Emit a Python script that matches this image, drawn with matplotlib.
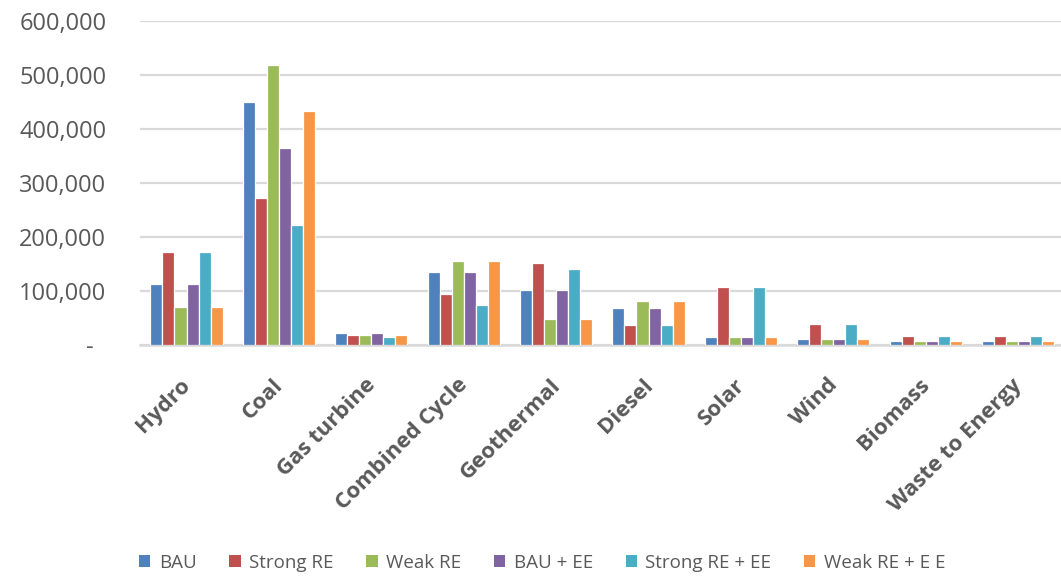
import matplotlib
matplotlib.use("Agg")
import matplotlib.pyplot as plt
import matplotlib.transforms as mtransforms
from matplotlib.ticker import FuncFormatter
import numpy as np

categories = ["Hydro", "Coal", "Gas turbine", "Combined Cycle", "Geothermal",
              "Diesel", "Solar", "Wind", "Biomass", "Waste to Energy"]

scenarios = ["BAU", "Strong RE", "Weak RE", "BAU + EE", "Strong RE + EE", "Weak RE + E E"]

bau          = [113000, 450000, 23000, 135000, 102000, 68000, 15000, 10500, 8000, 8000]
strong_re    = [173000, 272000, 19000,  95000, 151000, 37000, 108000, 39500, 17000, 17000]
weak_re      = [ 71000, 519000, 19000, 155000,  49000, 82000, 15000, 10500, 8000, 8000]
bau_ee       = [113000, 365000, 23000, 135000, 102000, 68000, 15000, 10500, 8000, 8000]
strong_re_ee = [173000, 223000, 15000,  75000, 141500, 37000, 108000, 39500, 17000, 17000]
weak_re_ee   = [ 71000, 434000, 19000, 155000,  49000, 82000, 15000, 10500, 8000, 8000]

series = [bau, strong_re, weak_re, bau_ee, strong_re_ee, weak_re_ee]
colors = ["#4F81BD", "#C0504D", "#9BBB59", "#8064A2", "#4BACC6", "#F79646"]

plt.rcParams["font.family"] = ["Open Sans", "DejaVu Sans"]
text_grey = "#595959"
grid_grey = "#D9D9D9"

fig = plt.figure(figsize=(10.61, 5.79), dpi=100)
ax = fig.add_axes([140.3 / 1061, 1 - 345 / 579, 924 / 1061, (345 - 21) / 579])

x = np.arange(len(categories))
pitch = 0.13
for i, (vals, col, name) in enumerate(zip(series, colors, scenarios)):
    ax.bar(x + (i - 2.5) * pitch, vals, width=pitch, color=col,
           edgecolor="white", linewidth=0.9, label=name, zorder=3)

ax.set_xlim(-0.5, len(categories) - 0.5)
ax.set_ylim(0, 600000)
ax.set_yticks(np.arange(0, 600001, 100000))
ax.yaxis.set_major_formatter(FuncFormatter(lambda v, p: "-" if v == 0 else f"{int(v):,}"))
ax.grid(axis="y", color=grid_grey, linewidth=1.6, zorder=0)
ax.set_axisbelow(True)
for s in ["top", "right", "left"]:
    ax.spines[s].set_visible(False)
ax.spines["bottom"].set_color(grid_grey)
ax.spines["bottom"].set_linewidth(1.8)

ax.tick_params(axis="y", length=0, pad=24.5, labelsize=17, labelcolor=text_grey)
ax.tick_params(axis="x", length=0, pad=0)
ax.set_xticks(x)
ax.set_xticklabels(categories, rotation=45, ha="right", va="center",
                   rotation_mode="anchor", fontsize=16, fontweight="bold",
                   color=text_grey)

# shift the slanted category labels below the axis
off = mtransforms.ScaledTranslation(1 / 100, -37 / 100, fig.dpi_scale_trans)
for lbl in ax.get_xticklabels():
    lbl.set_transform(lbl.get_transform() + off)

# the zero label sits further left, as in accounting format
zero_off = mtransforms.ScaledTranslation(-13 / 100, 0, fig.dpi_scale_trans)
ax.get_yticklabels()[0].set_transform(ax.get_yticklabels()[0].get_transform() + zero_off)

leg = fig.legend(loc="center", bbox_to_anchor=(0.511, 1 - 563 / 579), ncol=6,
                 frameon=False, fontsize=13.5, handlelength=0.6, handleheight=0.6,
                 handletextpad=0.45, columnspacing=1.75, labelcolor=text_grey)
for h in leg.legend_handles:
    h.set_edgecolor("none")

fig.savefig("out.png", dpi=100)
